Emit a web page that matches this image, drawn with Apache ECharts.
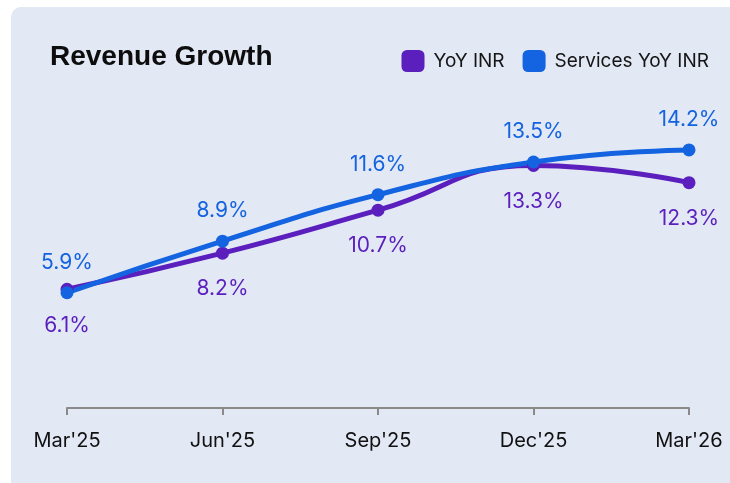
<!DOCTYPE html>
<html>
<head>
<meta charset="utf-8">
<script src="https://cdn.jsdelivr.net/npm/echarts@6/dist/echarts.min.js"></script>
<style>
  html, body { margin: 0; padding: 0; background: #ffffff; }
  #card { position: absolute; left: 11px; top: 7px; width: 740px; height: 500px; background: #e2e8f4; border-radius: 10px; }
  #main { position: absolute; left: 0; top: 0; width: 730px; height: 483px; }
</style>
</head>
<body>
<div id="card"></div>
<div id="main"></div>
<script>
var quarters = ["Mar'25", "Jun'25", "Sep'25", "Dec'25", "Mar'26"];
var yoyInr = [6.1, 8.2, 10.7, 13.3, 12.3];
var servicesYoyInr = [5.9, 8.9, 11.6, 13.5, 14.2];

var purple = '#5a1fbd';
var blue = '#1463e0';

var chart = echarts.init(document.getElementById('main'));
var option = {
    backgroundColor: 'transparent',
    animation: false,
    title: {
        text: 'Revenue Growth',
        left: 45,
        top: 38,
        textStyle: {
            fontFamily: 'Liberation Sans',
            fontWeight: 'bold',
            fontSize: 28,
            color: '#0d0d0d'
        }
    },
    legend: {
        right: 16,
        top: 45,
        itemWidth: 23,
        itemHeight: 22,
        itemGap: 18,
        icon: 'roundRect',
        textStyle: { fontFamily: 'Inter', fontSize: 19, color: '#151515', padding: [0, 0, 0, 4] },
        data: ['YoY INR', 'Services YoY INR']
    },
    grid: { left: 67, right: 41, top: 119, bottom: 75 },
    xAxis: {
        type: 'category',
        boundaryGap: false,
        data: quarters,
        axisLine: { onZero: false, lineStyle: { color: '#8a8a8a', width: 2 } },
        axisTick: { length: 7, lineStyle: { color: '#8a8a8a', width: 2 } },
        axisLabel: { fontFamily: 'Inter', fontSize: 20, color: '#111', margin: 23 }
    },
    yAxis: {
        type: 'value',
        min: -0.8,
        max: 16,
        show: false,
        splitLine: { show: false }
    },
    series: [
        {
            name: 'YoY INR',
            type: 'line',
            smooth: true,
            data: yoyInr,
            symbol: 'circle',
            symbolSize: 13,
            itemStyle: { color: purple },
            lineStyle: { color: purple, width: 5 },
            label: {
                show: true,
                position: 'bottom',
                distance: 19,
                formatter: '{c}%',
                fontFamily: 'Inter',
                fontSize: 21,
                color: purple
            }
        },
        {
            name: 'Services YoY INR',
            type: 'line',
            smooth: true,
            data: servicesYoyInr,
            symbol: 'circle',
            symbolSize: 13,
            itemStyle: { color: blue },
            lineStyle: { color: blue, width: 5 },
            label: {
                show: true,
                position: 'top',
                distance: 13,
                formatter: '{c}%',
                fontFamily: 'Inter',
                fontSize: 21,
                color: blue
            }
        }
    ]
};
chart.setOption(option);
</script>
</body>
</html>
